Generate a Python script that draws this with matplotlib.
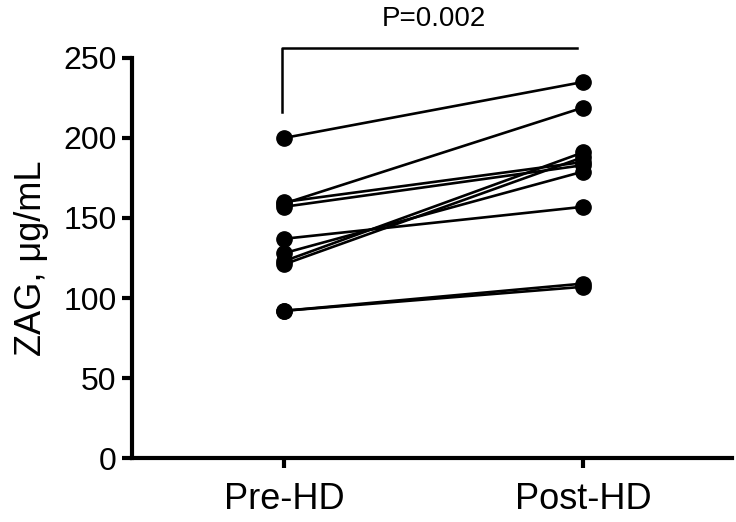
import matplotlib
matplotlib.use("Agg")
import matplotlib.pyplot as plt

plt.rcParams['font.family'] = ['Liberation Sans', 'DejaVu Sans']

groups = ['Pre-HD', 'Post-HD']
pre_hd = [200, 159, 160, 157, 137, 128, 123, 121, 92, 92]
post_hd = [235, 219, 185, 183, 157, 179, 191, 188, 109, 107]
p_label = 'P=0.002'

fig = plt.figure(figsize=(7.36, 5.22), dpi=100)
ax = fig.add_axes([132 / 736, 64 / 522, 600 / 736, 400 / 522])

for a, b in zip(pre_hd, post_hd):
    ax.plot([0, 1], [a, b], color='black', lw=1.9, marker='o', ms=11,
            solid_capstyle='round', clip_on=False, zorder=3)

ax.set_xlim(-0.508, 1.498)
ax.set_ylim(0, 250)
ax.set_yticks([0, 50, 100, 150, 200, 250])
ax.set_xticks([0, 1])
ax.set_xticklabels(groups)
ax.set_ylabel('ZAG, μg/mL', fontsize=26, labelpad=10)

for side in ['top', 'right']:
    ax.spines[side].set_visible(False)
for side in ['left', 'bottom']:
    ax.spines[side].set_linewidth(3)
ax.tick_params(axis='both', which='major', direction='out', length=7,
               width=3, labelsize=23, pad=4)
ax.tick_params(axis='x', labelsize=26, pad=10)

# significance bracket
ax.plot([-0.007, -0.007, 0.98], [216, 256, 256], color='black', lw=1.8,
        clip_on=False)
ax.text(0.5, 266, p_label, ha='center', va='bottom', fontsize=20)

plt.savefig('out.png', dpi=100)
